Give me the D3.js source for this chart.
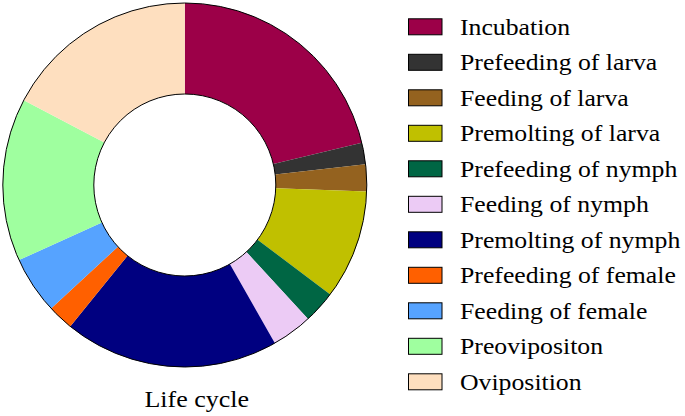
<!DOCTYPE html>
<html><head><meta charset="utf-8">
<script src="https://cdn.jsdelivr.net/npm/d3@7"></script>
<style>body{margin:0;background:#fff} text{font-family:"Liberation Serif","Times New Roman",serif;}</style>
</head><body>
<svg id="c" width="685" height="416"></svg>
<script>
const categories = ["Incubation","Prefeeding of larva","Feeding of larva","Premolting of larva","Prefeeding of nymph","Feeding of nymph","Premolting of nymph","Prefeeding of female","Feeding of female","Preovipositon","Oviposition"];
const values = [21.3,1.9,2.4,9.7,2.9,3.6,19.1,2.3,5.1,14.5,17.3];
const colors = ["#9C0048","#333333","#94621F","#C0C000","#006644","#ECCBF5","#000080","#FF6000","#56A3FF","#9FFF9F","#FEDFBF"];
const title = "Life cycle";

const svg = d3.select("#c");
const cx = 184.8, cy = 185, R = 182, r = 91;

const pie = d3.pie().sort(null).value(d => d)(values);
const arc = d3.arc().innerRadius(r).outerRadius(R);
const g = svg.append("g").attr("transform", `translate(${cx},${cy})`);
g.selectAll("path").data(pie).join("path")
  .attr("d", arc).attr("fill", (d,i) => colors[i]);
g.append("circle").attr("r", R).attr("fill","none").attr("stroke","#000").attr("stroke-width",1);
g.append("circle").attr("r", r).attr("fill","none").attr("stroke","#000").attr("stroke-width",1);

svg.append("text").attr("transform", `translate(196.7,407) scale(1.13,1)`)
  .attr("text-anchor","middle").style("font-size","23px").attr("fill","#000").text(title);

const y = d3.scalePoint().domain(categories).range([18.3, 373.3]);
const lg = svg.append("g");
const rows = lg.selectAll("g").data(categories).join("g")
  .attr("transform", d => `translate(0,${y(d)})`);
rows.append("rect").attr("x",408.5).attr("y",0.5).attr("width",33.5).attr("height",16)
  .attr("fill",(d,i)=>colors[i]).attr("stroke","#000").attr("stroke-width",1);
rows.append("text").attr("transform","translate(460,16.5) scale(1.12,1)")
  .style("font-size","23px").attr("fill","#000").text(d=>d);
</script>
</body></html>
